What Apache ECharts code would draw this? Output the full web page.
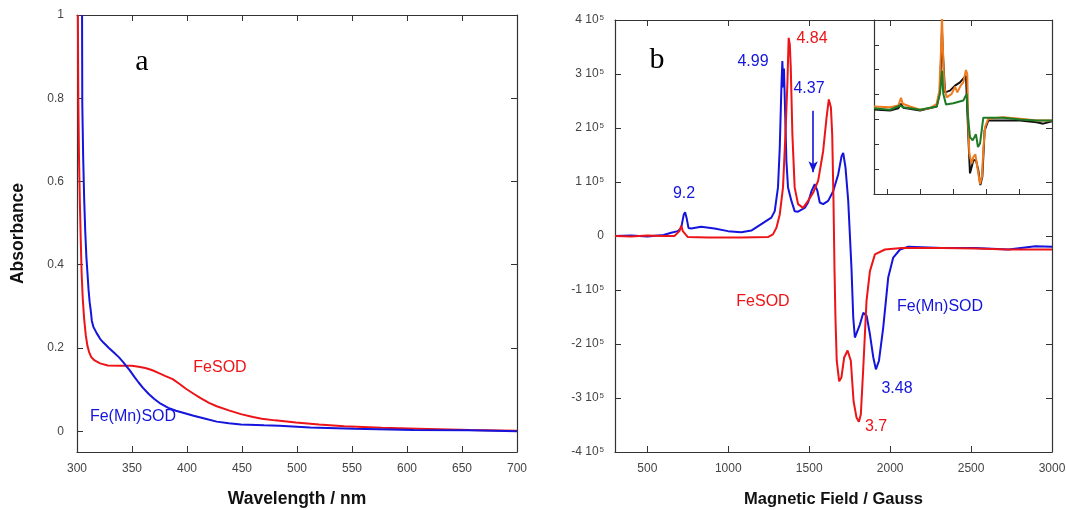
<!DOCTYPE html>
<html><head><meta charset="utf-8">
<script src="https://cdn.jsdelivr.net/npm/echarts@6/dist/echarts.min.js"></script>
<style>html,body{margin:0;padding:0;background:#fff}#c{width:1066px;height:510px}</style>
</head><body><div id="c"></div>
<script>
// ---------- Panel a : UV-vis absorbance ----------
const aFeWavelength = [300.8,301.2,301.8,302.6,303.5,304.2,305.2,306.5,308,309.5,311,313,316,321,328,340,350,356,362,368,374,380,387,393,399,406,412,420,427,438,449,460,468,480,499,520,543,560,577,610,657,700];
const aFeAbs        = [1.0,0.8,0.66,0.55,0.45,0.38,0.32,0.27,0.23,0.205,0.19,0.178,0.17,0.163,0.158,0.157,0.157,0.155,0.152,0.147,0.14,0.133,0.125,0.114,0.102,0.09,0.08,0.068,0.06,0.05,0.041,0.034,0.03,0.026,0.021,0.016,0.012,0.01,0.008,0.006,0.003,0.001];
const aMnWavelength = [304.6,304.8,305.6,306.5,307.5,308.5,309.5,310.5,311.5,312.5,313.5,315,318,321,324,329,334,338,342,345,348,352,356,360,365,370,376,383,390,398,406,415,427,438,449,470,484,512,552,606,656,700];
const aMnAbs        = [1.0,0.79,0.66,0.56,0.48,0.42,0.38,0.34,0.31,0.29,0.265,0.25,0.235,0.222,0.213,0.2,0.188,0.178,0.166,0.156,0.146,0.131,0.117,0.104,0.09,0.078,0.066,0.056,0.049,0.043,0.037,0.031,0.023,0.019,0.016,0.014,0.013,0.009,0.006,0.003,0.002,0.0];
const aXTicks = [300,350,400,450,500,550,600,650,700];
const aYTicks = [0,0.2,0.4,0.6,0.8,1];

// ---------- Panel b : EPR (signal in units of 10^5) ----------
const bMnField  = [300,400,500,600,647,688,709,725,733,742,754,771,832,915,998,1080,1142,1204,1266,1287,1307,1318,1328,1334,1340,1344,1351,1359,1369,1390,1410,1431,1472,1493,1514,1534,1551,1565,1586,1617,1648,1679,1700,1710,1724,1741,1761,1772,1782,1792,1813,1834,1855,1875,1896,1912,1931,1957,1988,2019,2061,2112,2319,2525,2731,2897,3000];
const bMnSignal = [0,0.01,-0.01,0.02,0.06,0.09,0.15,0.40,0.44,0.34,0.15,0.14,0.17,0.14,0.09,0.07,0.10,0.22,0.34,0.46,0.90,1.64,2.75,3.24,2.75,3.1,2.31,1.39,0.90,0.65,0.46,0.45,0.52,0.62,0.83,0.96,0.83,0.62,0.59,0.65,0.83,1.14,1.48,1.54,1.27,0.65,-0.59,-1.51,-1.88,-1.91,-1.64,-1.42,-1.48,-1.82,-2.25,-2.47,-2.31,-1.70,-0.77,-0.40,-0.25,-0.20,-0.22,-0.22,-0.25,-0.19,-0.20];
const bFeField  = [300,400,500,600,667,698,709,719,750,874,1080,1245,1276,1297,1318,1338,1353,1365,1373,1380,1386,1396,1410,1431,1462,1493,1524,1555,1586,1607,1621,1634,1642,1650,1656,1662,1670,1685,1699,1716,1737,1757,1774,1792,1807,1819,1834,1854,1875,1906,1968,2071,2319,2525,2731,3000];
const bFeSignal = [0,-0.01,0.01,0,0,0.09,0.19,0.09,-0.02,-0.03,-0.03,-0.02,0.03,0.15,0.40,0.90,1.88,2.81,3.67,3.55,3.12,1.88,0.90,0.59,0.52,0.65,0.80,1.02,1.57,2.19,2.53,2.38,1.88,0.65,-0.59,-1.51,-2.31,-2.69,-2.62,-2.25,-2.12,-2.31,-3.06,-3.36,-3.44,-3.30,-2.44,-1.20,-0.65,-0.34,-0.25,-0.22,-0.22,-0.23,-0.25,-0.25];
const bXTicks = [500,1000,1500,2000,2500,3000];

// ---------- Inset (arbitrary units) ----------
const inOrangeField  = [300,543,669,710,735,846,998,1149,1251,1291,1316,1331,1346,1367,1402,1478,1529,1564,1614,1655,1695,1715,1731,1746,1781,1807,1837,1867,1908,1938,1958,1984,2034,2262,2515,2767,3000];
const inOrangeSignal = [-0.48,-0.51,-0.44,-0.13,-0.37,-0.48,-0.61,-0.55,-0.37,0.16,1.76,3.2,1.76,0.29,-0.11,0.03,0.32,0.09,0.36,0.49,0.99,0.83,-1.31,-2.37,-2.77,-2.51,-2.40,-2.91,-3.60,-3.31,-2.24,-1.31,-0.97,-0.91,-0.97,-1.04,-1.04];
const inBlackField   = [300,543,669,710,745,998,1251,1301,1331,1351,1377,1453,1529,1604,1695,1715,1731,1756,1781,1807,1847,1882,1913,1943,1978,2034,2515,2767,2868,3000];
const inBlackSignal  = [-0.6,-0.64,-0.55,-0.37,-0.53,-0.64,-0.48,0.16,2.56,1.36,0.09,0.16,0.36,0.49,0.76,0.69,-1.71,-3.17,-2.91,-2.64,-2.64,-3.04,-3.64,-3.31,-1.44,-1.04,-1.04,-1.11,-1.17,-1.07];
const inGreenField   = [300,543,694,745,998,1251,1301,1331,1351,1392,1503,1655,1706,1726,1756,1797,1847,1877,1908,1958,2262,2515,2767,3000];
const inGreenSignal  = [-0.55,-0.61,-0.44,-0.51,-0.61,-0.48,0.03,0.96,0.03,-0.40,-0.35,-0.24,0.03,-0.91,-1.71,-1.84,-1.60,-2.11,-1.97,-0.93,-0.93,-1.0,-1.04,-1.04];

const RED = '#ec1418', BLUE = '#1414dc', ORANGE = '#f07a1e', GREEN = '#1f7a25', BLACK = '#111';
const zip = (xs, ys, k) => xs.map((x, i) => [x, ys[i] * (k || 1)]);

const LINEC = '#333';
const FONT = '"Liberation Sans", Arial, sans-serif';
const lbl = {color: '#444', fontSize: 12, fontFamily: FONT};
const titleA = {color: '#111', fontSize: 17.5, fontWeight: 'bold', fontFamily: FONT};
const titleB = {color: '#111', fontSize: 16.5, fontWeight: 'bold', fontFamily: FONT};
function ax(extra) {
  return Object.assign({
    type: 'value', splitLine: {show: false},
    axisLine: {show: true, onZero: false, lineStyle: {color: LINEC, width: 1.2}},
    axisTick: {show: true, inside: true, length: 6, lineStyle: {color: LINEC, width: 1}},
    axisLabel: Object.assign({show: false}, lbl)
  }, extra);
}

const chart = echarts.init(document.getElementById('c'), null, {renderer: 'canvas'});
const sup = v => v === 0 ? '0' : '{m|' + Math.round(v / 1e5) + ' 10}{s|5}';

chart.setOption({
  animation: false,
  backgroundColor: '#fff',
  grid: [
    {left: 77, right: 549, top: 15, bottom: 58, outerBoundsMode: 'none', containLabel: false},
    {left: 615, right: 14, top: 20, bottom: 58, outerBoundsMode: 'none', containLabel: false},
    {left: 874, right: 14, top: 20, bottom: 316, outerBoundsMode: 'none', containLabel: false}
  ],
  xAxis: [
    ax({gridIndex: 0, min: 300, max: 700, interval: 50,
        axisLabel: Object.assign({show: true, margin: 11, formatter: v => String(v)}, lbl),
        name: 'Wavelength / nm', nameLocation: 'middle', nameGap: 38, nameTextStyle: titleA}),
    ax({gridIndex: 0, position: 'top', min: 300, max: 700, interval: 50}),
    ax({gridIndex: 1, min: 300, max: 3000,
        axisTick: {show: true, inside: true, length: 6, customValues: bXTicks, lineStyle: {color: LINEC}},
        axisLabel: Object.assign({show: true, margin: 11, customValues: bXTicks, formatter: v => String(v)}, lbl),
        name: 'Magnetic Field / Gauss', nameLocation: 'middle', nameGap: 39, nameTextStyle: titleB}),
    ax({gridIndex: 1, position: 'top', min: 300, max: 3000,
        axisTick: {show: true, inside: true, length: 6, customValues: bXTicks, lineStyle: {color: LINEC}}}),
    ax({gridIndex: 2, min: 300, max: 3000,
        axisTick: {show: true, inside: true, length: 5, customValues: bXTicks, lineStyle: {color: LINEC}}})
  ],
  yAxis: [
    ax({gridIndex: 0, min: -0.05, max: 1,
        axisTick: {show: true, inside: true, length: 6, customValues: aYTicks, lineStyle: {color: LINEC}},
        axisLabel: Object.assign({show: true, margin: 13, customValues: aYTicks, formatter: v => String(v)}, lbl),
        name: 'Absorbance', nameLocation: 'middle', nameGap: 50, nameRotate: 90, nameTextStyle: titleA}),
    ax({gridIndex: 0, position: 'right', min: -0.05, max: 1,
        axisTick: {show: true, inside: true, length: 6, customValues: aYTicks, lineStyle: {color: LINEC}}}),
    ax({gridIndex: 1, min: -4e5, max: 4e5, interval: 1e5,
        axisLabel: Object.assign({show: true, margin: 11, formatter: sup,
          rich: {m: {fontSize: 12, color: '#444', fontFamily: FONT},
                 s: {fontSize: 8, color: '#444', verticalAlign: 'top', padding: [0, 0, 4, 1], fontFamily: FONT}}}, lbl)}),
    ax({gridIndex: 1, position: 'right', min: -4e5, max: 4e5, interval: 1e5}),
    ax({gridIndex: 2, min: -4, max: 3, interval: 1, axisTick: {show: true, inside: true, length: 5, lineStyle: {color: LINEC}}})
  ],
  series: [
    {type: 'line', xAxisIndex: 0, yAxisIndex: 0, data: zip(aFeWavelength, aFeAbs), showSymbol: false, lineStyle: {color: RED, width: 2}},
    {type: 'line', xAxisIndex: 0, yAxisIndex: 0, data: zip(aMnWavelength, aMnAbs), showSymbol: false, lineStyle: {color: BLUE, width: 2}},
    {type: 'line', xAxisIndex: 2, yAxisIndex: 2, data: zip(bMnField, bMnSignal, 1e5), showSymbol: false, lineStyle: {color: BLUE, width: 2},
      markLine: {silent: true, symbol: ['none', 'arrow'], symbolSize: [7, 11], label: {show: false},
        lineStyle: {color: BLUE, width: 1.6, type: 'solid'},
        data: [[{coord: [1524, 2.32e5]}, {coord: [1524, 1.18e5]}]]}},
    {type: 'line', xAxisIndex: 2, yAxisIndex: 2, data: zip(bFeField, bFeSignal, 1e5), showSymbol: false, lineStyle: {color: RED, width: 2}},
    {type: 'line', xAxisIndex: 4, yAxisIndex: 4, data: zip(inBlackField, inBlackSignal), showSymbol: false, lineStyle: {color: BLACK, width: 2}},
    {type: 'line', xAxisIndex: 4, yAxisIndex: 4, data: zip(inOrangeField, inOrangeSignal), showSymbol: false, lineStyle: {color: ORANGE, width: 2}},
    {type: 'line', xAxisIndex: 4, yAxisIndex: 4, data: zip(inGreenField, inGreenSignal), showSymbol: false, lineStyle: {color: GREEN, width: 2}}
  ],
  graphic: [
    ['a', 142, 62, '#000', 'normal 30px "Liberation Serif", "DejaVu Serif", serif'],
    ['b', 657, 60, '#000', 'normal 30px "Liberation Serif", "DejaVu Serif", serif'],
    ['FeSOD', 220, 368, RED, '16px ' + FONT],
    ['Fe(Mn)SOD', 133, 417, BLUE, '16px ' + FONT],
    ['4.84', 812, 39, RED, '16px ' + FONT],
    ['4.99', 753, 62, BLUE, '16px ' + FONT],
    ['4.37', 809, 89, BLUE, '16px ' + FONT],
    ['9.2', 684, 194, BLUE, '16px ' + FONT],
    ['FeSOD', 763, 302, RED, '16px ' + FONT],
    ['Fe(Mn)SOD', 940, 307, BLUE, '16px ' + FONT],
    ['3.48', 897, 389, BLUE, '16px ' + FONT],
    ['3.7', 876, 427, RED, '16px ' + FONT]
  ].map(([t, x, y, c, f]) => ({type: 'text', x: x, y: y, z: 10, silent: true,
     style: {text: t, x: 0, y: 0, fill: c, font: f, textAlign: 'center', align: 'center', textVerticalAlign: 'middle', verticalAlign: 'middle'}}))
});
</script>
</body></html>
